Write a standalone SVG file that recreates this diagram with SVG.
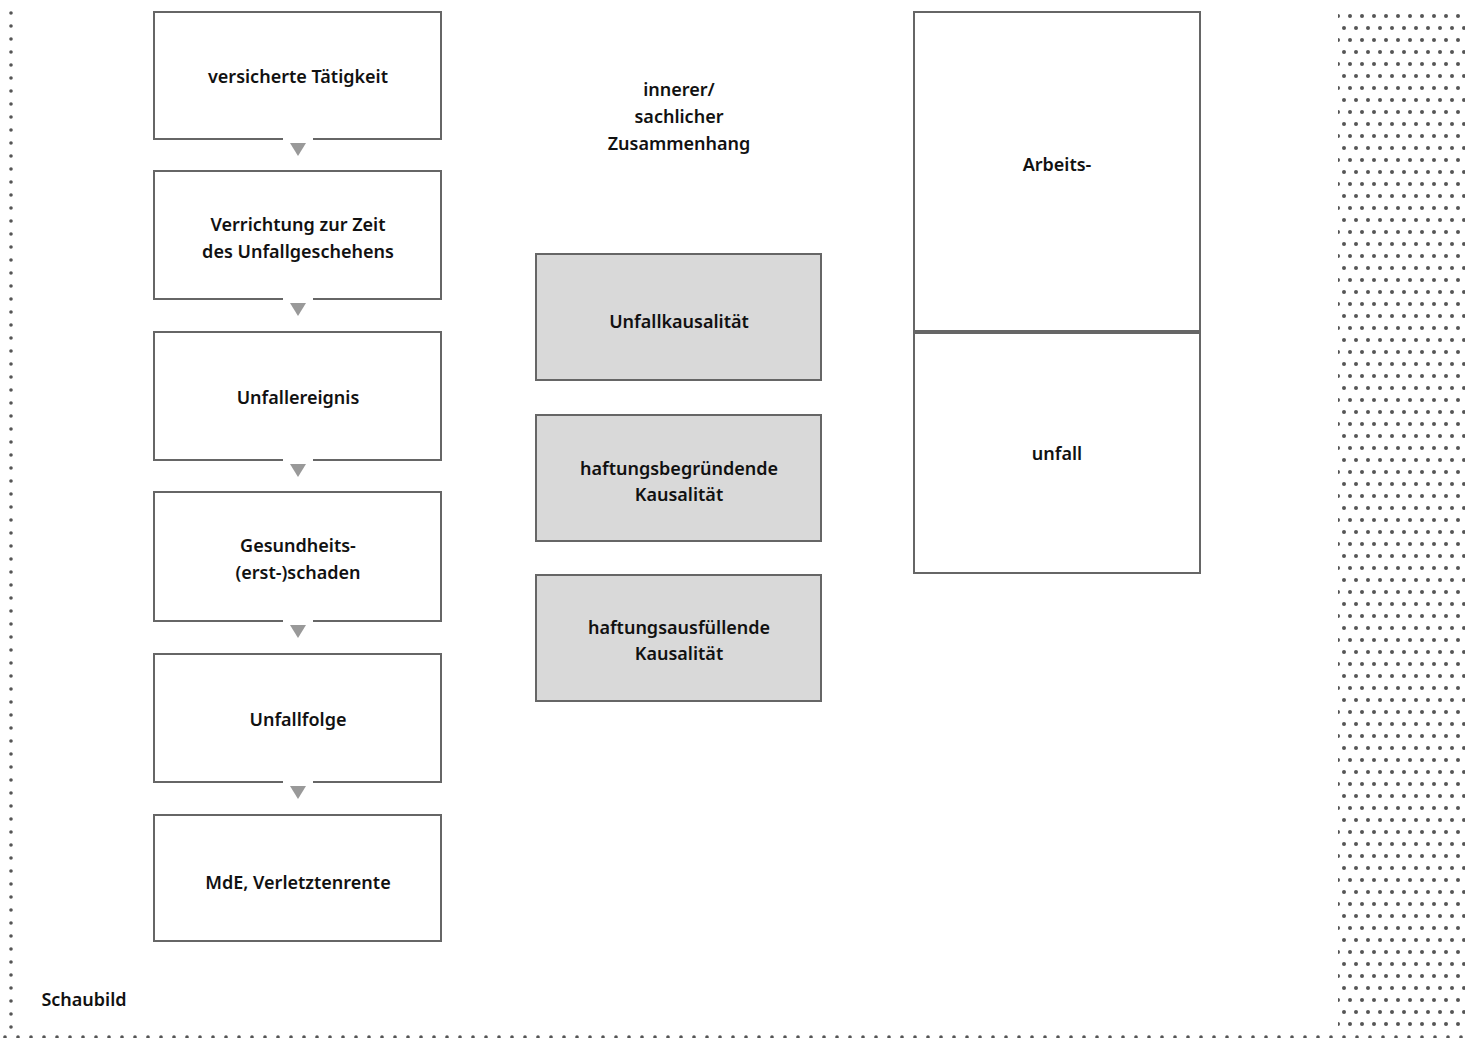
<svg xmlns="http://www.w3.org/2000/svg" width="1465" height="1038" viewBox="0 0 1465 1038">
<style>
.box{fill:#fff;stroke:#666;stroke-width:2}
.gbox{fill:#d9d9d9;stroke:#666;stroke-width:2}
.t{font-family:"Noto Sans","Liberation Sans",sans-serif;font-size:18px;font-weight:600;fill:#111;text-anchor:middle}
.arr{fill:#999}
.dots{fill:none;stroke:#555;stroke-width:3.6;stroke-linecap:round;stroke-dasharray:0 13}
</style>
<defs>
<pattern id="dp" x="1344" y="10" width="12" height="24" patternUnits="userSpaceOnUse">
<circle cx="6" cy="6" r="2" fill="#555"/>
<circle cx="0" cy="18" r="2" fill="#555"/>
<circle cx="12" cy="18" r="2" fill="#555"/>
</pattern>
</defs>
<g id="frame">
<line class="dots" x1="11" y1="13" x2="11" y2="1030"/>
<line class="dots" x1="5" y1="1037" x2="1465" y2="1037"/>
<rect x="1338" y="10" width="127" height="1020" fill="url(#dp)"/>
</g>
<g id="n1"><path class="box" d="M283,139 H154 V12 H441 V139 H313"/><text class="t" x="298" y="83">versicherte Tätigkeit</text></g>
<g id="n2"><path class="box" d="M283,299 H154 V171 H441 V299 H313"/><text class="t" x="298" y="231">Verrichtung zur Zeit</text><text class="t" x="298" y="258">des Unfallgeschehens</text></g>
<g id="n3"><path class="box" d="M283,460 H154 V332 H441 V460 H313"/><text class="t" x="298" y="404">Unfallereignis</text></g>
<g id="n4"><path class="box" d="M283,621 H154 V492 H441 V621 H313"/><text class="t" x="298" y="552">Gesundheits-</text><text class="t" x="298" y="579">(erst-)schaden</text></g>
<g id="n5"><path class="box" d="M283,782 H154 V654 H441 V782 H313"/><text class="t" x="298" y="726">Unfallfolge</text></g>
<g id="n6"><rect class="box" x="154" y="815" width="287" height="126"/><text class="t" x="298" y="889">MdE, Verletztenrente</text></g>
<g id="connectors">
<polygon class="arr" points="290,143 306,143 298,156"/>
<polygon class="arr" points="290,303 306,303 298,316"/>
<polygon class="arr" points="290,464 306,464 298,477"/>
<polygon class="arr" points="290,625 306,625 298,638"/>
<polygon class="arr" points="290,786 306,786 298,799"/>
</g>
<g id="label-zusammenhang"><text class="t" x="679" y="96">innerer/</text><text class="t" x="679" y="123">sachlicher</text><text class="t" x="679" y="150">Zusammenhang</text></g>
<g id="g1"><rect class="gbox" x="536" y="254" width="285" height="126"/><text class="t" x="679" y="328">Unfallkausalität</text></g>
<g id="g2"><rect class="gbox" x="536" y="415" width="285" height="126"/><text class="t" x="679" y="475">haftungsbegründende</text><text class="t" x="679" y="501">Kausalität</text></g>
<g id="g3"><rect class="gbox" x="536" y="575" width="285" height="126"/><text class="t" x="679" y="634">haftungsausfüllende</text><text class="t" x="679" y="660">Kausalität</text></g>
<g id="r1"><rect class="box" x="914" y="12" width="286" height="319"/><text class="t" x="1057" y="171">Arbeits-</text></g>
<g id="r2"><rect class="box" x="914" y="333" width="286" height="240"/><text class="t" x="1057" y="460">unfall</text></g>
<g id="caption"><text class="t" x="84" y="1006">Schaubild</text></g>
</svg>
